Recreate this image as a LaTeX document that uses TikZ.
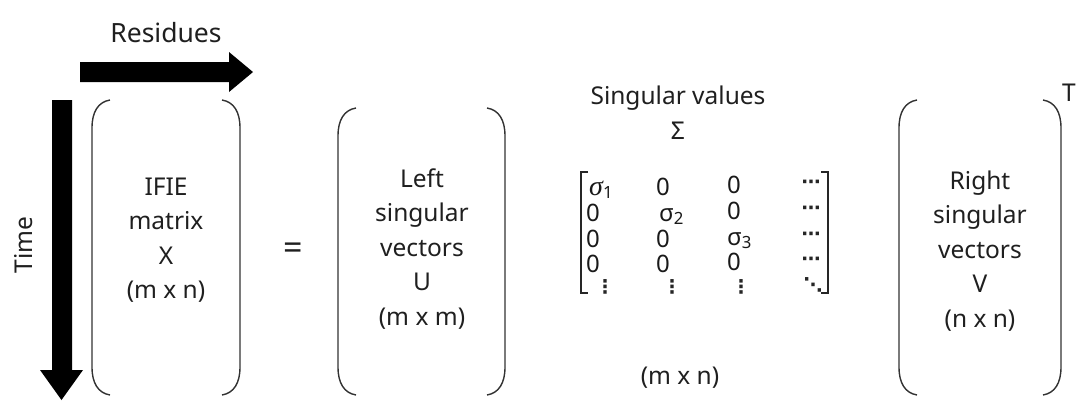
\documentclass[tikz,border=0pt]{standalone}
\usepackage{fontspec}
\setmainfont{Noto Sans}
\newfontfamily\symfont{DejaVu Sans Bold}
\newfontfamily\sigfont{Liberation Serif}
\begin{document}
\begin{tikzpicture}[x=1pt,y=-1pt,
  txt/.style={font=\fontsize{24.5}{34.5}\selectfont, align=center, inner sep=0pt, text=black!88},
  par/.style={line width=1.4pt, draw=black!80},
  brk/.style={line width=1.6pt, draw=black!85},
  el/.style={font=\fontsize{24}{26}\selectfont, inner sep=0pt, anchor=base west, text=black!90},
  dt/.style={font=\symfont\fontsize{19}{22}\selectfont, inner sep=0pt, text=black!85},
  bigarrow/.style={fill=black}]
\useasboundingbox (0,0) rectangle (1080,405);

% arrows
\fill[bigarrow] (80,62) -- (229,62) -- (229,52) -- (253,72) -- (229,92) -- (229,82) -- (80,82) -- cycle;
\fill[bigarrow] (52,100) -- (72,100) -- (72,370) -- (83,370) -- (61.5,400) -- (40,370) -- (52,370) -- cycle;
\node[txt, font=\fontsize{26.5}{30}\selectfont] (res) at (166,33) {Residues};
\node[txt, rotate=90] (time) at (24,245) {Time};

% X matrix
\draw[par] (110,100) .. controls (98,102) and (92,112) .. (92,128) -- (92,367) .. controls (92,383) and (98,393) .. (110,395);
\draw[par] (222,100) .. controls (234,102) and (240,112) .. (240,128) -- (240,367) .. controls (240,383) and (234,393) .. (222,395);
\node[txt] (X) at (166,240) {IFIE\\matrix\\X\\(m x n)};

\node[txt, font=\fontsize{34}{34}\selectfont] (eq) at (293,251) {=};

% U matrix
\draw[par] (356,108) .. controls (344,110) and (338,120) .. (338,136) -- (338,367) .. controls (338,383) and (344,393) .. (356,395);
\draw[par] (487,108) .. controls (499,110) and (505,120) .. (505,136) -- (505,367) .. controls (505,383) and (499,393) .. (487,395);
\node[txt] (U) at (422,249) {Left\\singular\\vectors\\U\\(m x m)};

% Sigma
\node[txt] (sv) at (678,98) {Singular values};
\node[txt] (Sig) at (678,131) {Σ};
\draw[brk] (588,172) -- (581,172) -- (581,293) -- (588,293);
\draw[brk] (821,172) -- (828,172) -- (828,293) -- (821,293);
\node[el] (s11) at (589,195) {{\sigfont\itshape\fontsize{28}{28}\selectfont σ}\textsubscript{1}};
\node[el] (s12) at (656,195) {0};
\node[el] (s13) at (727,193) {0};
\node[dt] (s14) at (811,184) {⋯};
\node[el] (s21) at (586,221) {0};
\node[el] (s22) at (659,221) {σ\textsubscript{2}};
\node[el] (s23) at (727,219) {0};
\node[dt] (s24) at (811,210) {⋯};
\node[el] (s31) at (586,247) {0};
\node[el] (s32) at (656,247) {0};
\node[el] (s33) at (727,245) {σ\textsubscript{3}};
\node[dt] (s34) at (811,236) {⋯};
\node[el] (s41) at (586,272) {0};
\node[el] (s42) at (656,272) {0};
\node[el] (s43) at (727,270) {0};
\node[dt] (s44) at (811,261) {⋯};
\node[dt] (d1) at (605,287) {⋮};
\node[dt] (d2) at (672,287) {⋮};
\node[dt] (d3) at (741,287) {⋮};
\node[dt] (d4) at (813,285) {⋱};
\node[txt] (mn) at (680,378) {(m x n)};

% V matrix
\draw[par] (917,100) .. controls (905,102) and (899,112) .. (899,128) -- (899,367) .. controls (899,383) and (905,393) .. (917,395);
\draw[par] (1043,100) .. controls (1055,102) and (1061,112) .. (1061,128) -- (1061,367) .. controls (1061,383) and (1055,393) .. (1043,395);
\node[txt] (V) at (980,251) {Right\\singular\\vectors\\V\\(n x n)};
\node[txt] (T) at (1069,93) {T};
\end{tikzpicture}
\end{document}
